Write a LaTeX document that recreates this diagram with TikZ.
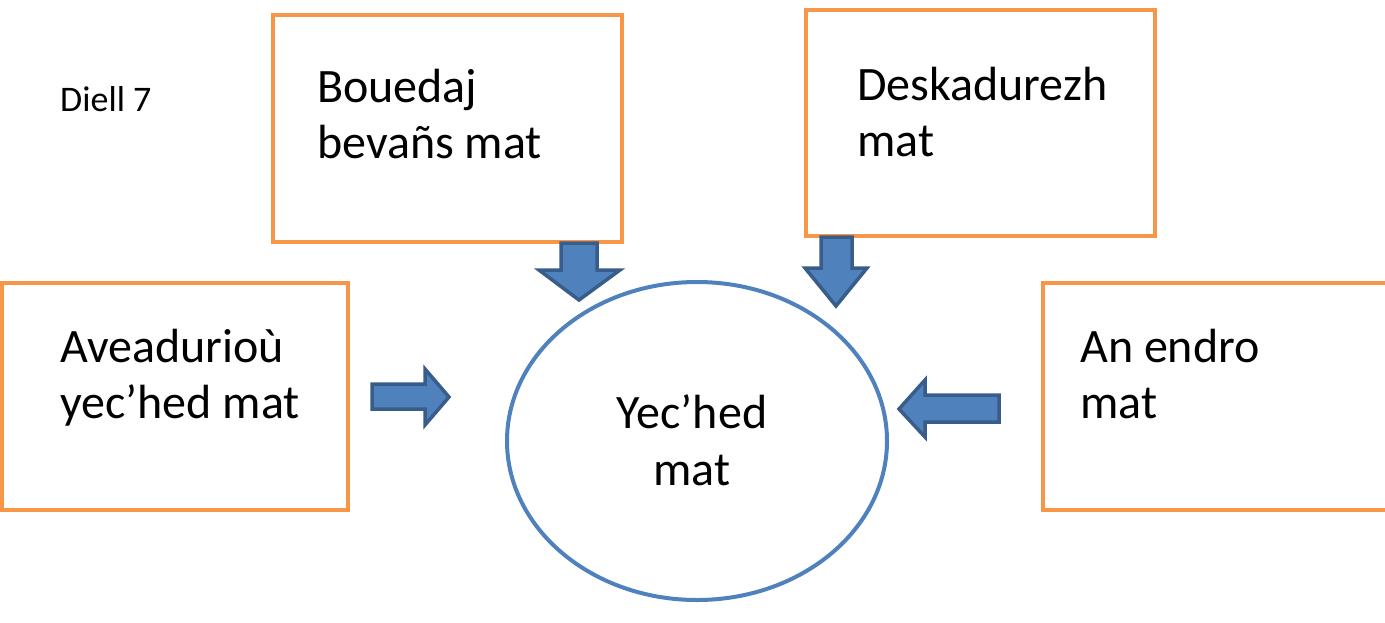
\documentclass[tikz,border=0pt]{standalone}
\usepackage{fontspec}
\setmainfont{Carlito}
\begin{document}
\begin{tikzpicture}[x=1pt,y=-1pt,
  big/.style={font=\fontsize{48}{56}\selectfont,inner sep=0pt,anchor=base west},
  blkarrow/.style={draw=arrowB,fill=arrowF,line width=3.5pt,line join=miter}]
\definecolor{orangeC}{HTML}{F79646}
\definecolor{arrowF}{HTML}{4F81BD}
\definecolor{arrowB}{HTML}{385D8A}
\useasboundingbox (0,0) rectangle (1385,622);
% boxes
\draw[draw=orangeC,line width=4.5pt] (273,15) rectangle (622,242);
\node[big] (t1a) at (317,102) {Bouedaj};
\node[big] (t1b) at (317,158) {bevañs mat};
\draw[draw=orangeC,line width=4.5pt] (806,10) rectangle (1155,236);
\node[big] (t2a) at (857,100) {Deskadurezh};
\node[big] (t2b) at (857,156) {mat};
\draw[draw=orangeC,line width=4.5pt] (2,283) rectangle (348,510);
\node[big] (t3a) at (60,362) {Aveadurioù};
\node[big] (t3b) at (60,418) {yec’hed mat};
\draw[draw=orangeC,line width=4.5pt] (1043,283) rectangle (1390,510);
\node[big] (t4a) at (1080,362) {An endro};
\node[big] (t4b) at (1080,418) {mat};
% circle
\draw[draw=arrowF,line width=4pt] (697,441) ellipse [x radius=190, y radius=159];
\node[font=\fontsize{48}{56}\selectfont,inner sep=0pt,anchor=base] (c1) at (692,428) {Yec’hed};
\node[font=\fontsize{48}{56}\selectfont,inner sep=0pt,anchor=base] (c2) at (692,485) {mat};
% label
\node[font=\fontsize{36}{42}\selectfont,inner sep=0pt,anchor=base west] (lab) at (60,111) {Diell 7};
% block arrows
\draw[blkarrow] (561,243) -- (597,243) -- (597,270) -- (620,270) -- (579,300) -- (539,270) -- (561,270) -- cycle;
\draw[blkarrow] (821,237) -- (852,237) -- (852,268) -- (867,268) -- (836,306) -- (805,268) -- (821,268) -- cycle;
\draw[blkarrow] (372,384) -- (425,384) -- (425,369) -- (449,397) -- (425,425) -- (425,409) -- (372,409) -- cycle;
\draw[blkarrow] (999,395) -- (925,395) -- (925,380) -- (899,409) -- (925,437) -- (925,422) -- (999,422) -- cycle;
\end{tikzpicture}
\end{document}
